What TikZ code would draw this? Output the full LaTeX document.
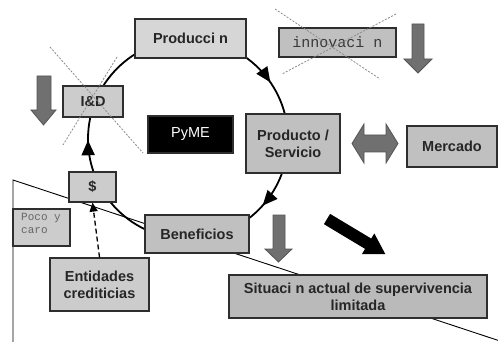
\documentclass[tikz,border=0pt]{standalone}
\usepackage{fontspec}
\setmainfont{Liberation Sans}
\newfontfamily\monof{Liberation Mono}
\usetikzlibrary{arrows.meta,decorations.markings}
\definecolor{edge}{HTML}{2E2E2E}
\definecolor{txt}{HTML}{262626}
\definecolor{fa}{HTML}{D6D6D6}
\definecolor{fb}{HTML}{CCCCCC}
\definecolor{fc}{HTML}{C0C0C0}
\definecolor{fd}{HTML}{BABABA}
\definecolor{grayarrow}{HTML}{707070}
\definecolor{grayedge}{HTML}{555555}
\definecolor{crossc}{HTML}{8A8A8A}
\begin{document}
\begin{tikzpicture}[x=1pt,y=-1pt,
  box/.style={draw=edge, line width=1.2pt, fill=#1, inner sep=0pt, align=center,
    font=\fontsize{14.5}{17}\selectfont\bfseries, text=txt},
  monobox/.style={draw=edge, line width=1.2pt, fill=#1, inner sep=0pt},
  crossline/.style={draw=crossc, line width=0.8pt, dash pattern=on 2pt off 1.5pt},
  blockarrow/.style={fill=grayarrow, draw=grayedge, line width=0.8pt},
  circ/.style={draw=black, line width=1.8pt},
  thin/.style={draw=black, line width=0.9pt},
  cyctip/.style={}]
\useasboundingbox (0,0) rectangle (498,342);
\fill[white] (0,0) rectangle (498,342);

% big wedge
\coordinate (wt) at (13,180);
\coordinate (wb) at (13,342);
\coordinate (wr) at (500,341);
\draw[thin] (wb) -- (wt) -- (wr);

% cycle
\coordinate (cen) at (188,139);
\draw[circ, postaction={decorate}, decoration={markings,
   mark=at position 0.116 with {\arrow{Triangle[length=15pt,width=13pt]}},
   mark=at position 0.498 with {\arrow{Triangle[length=15pt,width=13pt]}},
   mark=at position 0.904 with {\arrow{Triangle[length=15pt,width=13pt]}}}]
   (cen) circle (100);

% boxes
\node[box=fa, minimum width=111pt, minimum height=39pt] (prod) at (190.5,38.5) {Producci n};
\node[box=fb, minimum width=60pt, minimum height=31pt] (id) at (93,101.5) {I\&D};
\node[draw=edge, line width=1.2pt, fill=black, text=white, inner sep=0pt,
   minimum width=85pt, minimum height=37pt, font=\fontsize{14.5}{17}\selectfont] (pyme) at (190.5,134.5) {PyME};
\node[monobox=fc, minimum width=117pt, minimum height=29pt, font=\monof\fontsize{15}{17}\selectfont, text=gray!45!black] (innov) at (337.5,42.5) {innovaci n};
\node[box=fc, minimum width=94pt, minimum height=59pt] (ps) at (293,143.5) {Producto /\\Servicio};
\node[box=fc, minimum width=90pt, minimum height=41pt] (merc) at (452,146.5) {Mercado};
\node[box=fb, minimum width=47pt, minimum height=30pt] (dol) at (92.5,187) {\$};
\node[box=fc, minimum width=104pt, minimum height=38pt] (ben) at (197,234) {Beneficios};
\node[monobox=fb, minimum width=57pt, minimum height=37pt] (poco) at (41.5,227.5) {};
\node[anchor=north west, inner sep=0pt, align=left, text=gray!80!black,
   font=\monof\fontsize{11}{13}\selectfont] (pocot) at (21,213) {Poco y\\caro};
\node[box=fb, minimum width=99pt, minimum height=53pt] (ent) at (99.5,284.5) {Entidades\\crediticias};
\node[box=fd, minimum width=258pt, minimum height=43pt] (sit) at (358,296.5) {Situaci n actual de supervivencia\\limitada};

% crosses
\draw[crossline] (50,47) -- (143,153);
\draw[crossline] (117,57) -- (63,145);
\draw[crossline] (275,9) -- (380,79);
\draw[crossline] (396,14) -- (282,74);

% dashed credit arrow
\draw[black, line width=1.3pt, dash pattern=on 5pt off 3pt, -{Triangle[length=9pt,width=8pt]}] (ent.north) -- (dol.south);

% grey down arrows
\path[blockarrow] (37,76) -- (51,76) -- (51,110) -- (56,110) -- (43.5,125) -- (31,110) -- (37,110) -- cycle;
\path[blockarrow] (412,24) -- (424,24) -- (424,59) -- (432,59) -- (418,73) -- (404,59) -- (412,59) -- cycle;
\path[blockarrow] (273,215) -- (285,215) -- (285,249) -- (292,249) -- (278.5,262) -- (265,249) -- (273,249) -- cycle;
% double arrow
\path[blockarrow] (352,143.5) -- (364,124) -- (364,135) -- (386,135) -- (386,124) -- (398,143.5) -- (386,163) -- (386,152) -- (364,152) -- (364,163) -- cycle;
% black diagonal arrow
\begin{scope}[shift={(327,219)}, rotate=-31]
\fill[black] (0,-6) -- (48,-6) -- (48,-12) -- (68,0) -- (48,12) -- (48,6) -- (0,6) -- cycle;
\end{scope}
\end{tikzpicture}
\end{document}
